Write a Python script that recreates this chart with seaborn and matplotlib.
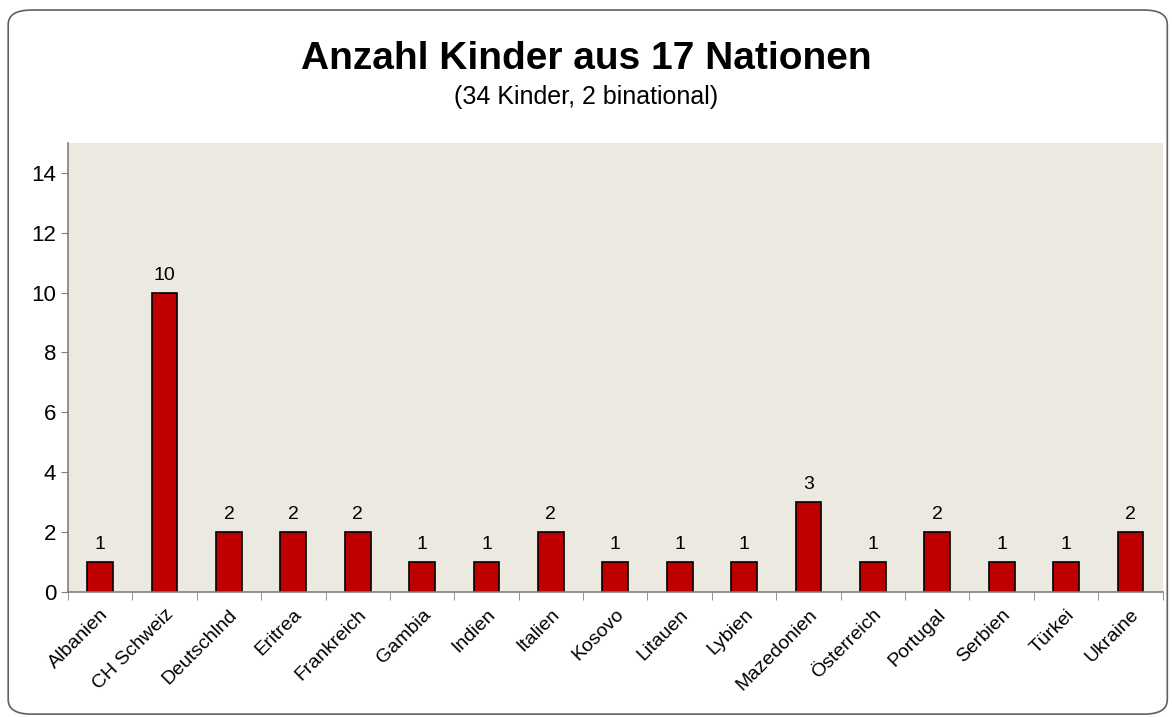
import matplotlib
matplotlib.use("Agg")
import matplotlib.pyplot as plt
from matplotlib.patches import FancyBboxPatch
import seaborn as sns

nationen = ["Albanien", "CH Schweiz", "Deutschlnd", "Eritrea", "Frankreich", "Gambia",
            "Indien", "Italien", "Kosovo", "Litauen", "Lybien", "Mazedonien",
            "Österreich", "Portugal", "Serbien", "Türkei", "Ukraine"]
anzahl = [1, 10, 2, 2, 2, 1, 1, 2, 1, 1, 1, 3, 1, 2, 1, 1, 2]

sns.set_style("white")
plt.rcParams['font.family'] = ['Liberation Sans', 'DejaVu Sans']
plt.rcParams['text.color'] = 'black'
plt.rcParams['xtick.color'] = 'black'
plt.rcParams['ytick.color'] = 'black'

fig = plt.figure(figsize=(11.72, 7.17), dpi=100)
ax = fig.add_axes([0.058, 0.174, 0.934, 0.627])

sns.barplot(x=nationen, y=anzahl, color="#C00000", edgecolor="black", linewidth=1.2,
            width=0.4, saturation=1, ax=ax)
ax.set_facecolor("#ECE9E0")

for i, v in enumerate(anzahl):
    ax.text(i, v + 0.3, str(v), ha="center", va="bottom", fontsize=14, color="black")

ax.set_ylim(0, 15)
ax.set_xlim(-0.5, len(nationen) - 0.5)
ax.set_yticks(range(0, 15, 2))
ax.tick_params(axis="y", labelsize=16, length=5, color="#808080", labelcolor="black",
               left=True, direction="out")
ax.set_xticks(range(len(nationen)))
ax.set_xticklabels(nationen, rotation=45, ha="right", rotation_mode="anchor", fontsize=14)
ax.tick_params(axis="x", which="major", length=0, pad=10, labelcolor="black")
ax.set_xticks([i - 0.5 for i in range(len(nationen) + 1)], minor=True)
ax.tick_params(axis="x", which="minor", length=6, color="#808080", bottom=True, direction="out")

for s in ["top", "right"]:
    ax.spines[s].set_visible(False)
for s in ["left", "bottom"]:
    ax.spines[s].set_color("#808080")
    ax.spines[s].set_linewidth(1.2)

fig.text(0.5, 0.918, "Anzahl Kinder aus 17 Nationen", ha="center", va="center",
         fontsize=28, fontweight="bold", color="black")
fig.text(0.5, 0.865, "(34 Kinder, 2 binational)", ha="center", va="center", fontsize=18,
         color="black")

rahmen = FancyBboxPatch((0.007, 0.004), 0.989, 0.982, boxstyle="round,pad=0,rounding_size=0.02",
                        transform=fig.transFigure, fill=False, edgecolor="#606060",
                        linewidth=1.2)
fig.patches.append(rahmen)

fig.savefig("out.png", dpi=100)
